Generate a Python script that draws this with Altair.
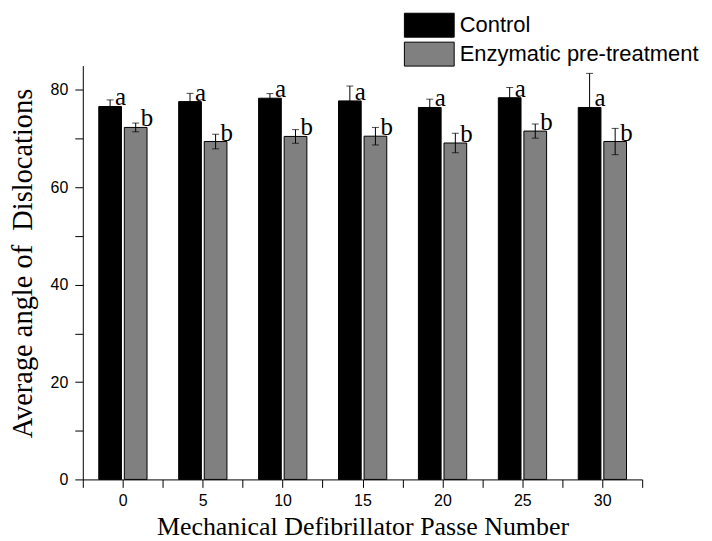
import altair as alt
import pandas as pd

passes = [0, 5, 10, 15, 20, 25, 30]
control = [76.6, 77.6, 78.3, 77.75, 76.4, 78.4, 76.4]
control_err = [1.35, 1.7, 0.95, 3.05, 1.7, 2.1, 7.0]
enzymatic = [72.3, 69.4, 70.45, 70.5, 69.1, 71.55, 69.4]
enzymatic_err = [0.9, 1.5, 1.4, 1.8, 2.0, 1.45, 2.7]
groups = ["Control", "Enzymatic pre-treatment"]
letters = ["a", "b"]
colors = ["#000000", "#808080"]
x_ticks = [-2.5, 0, 2.5, 5, 7.5, 10, 12.5, 15, 17.5, 20, 22.5, 25, 27.5, 30, 32.5]
y_ticks = [0, 10, 20, 30, 40, 50, 60, 70, 80]

rows = []
for i, p in enumerate(passes):
    rows.append(dict(passes=p, group=groups[0], value=control[i], err=control_err[i], letter=letters[0], gi=0))
    rows.append(dict(passes=p, group=groups[1], value=enzymatic[i], err=enzymatic_err[i], letter=letters[1], gi=1))
df = pd.DataFrame(rows)

base = alt.Chart(df).transform_calculate(
    xs="datum.passes + (datum.gi == 0 ? -1.5 : 0.1)",
    xe="datum.passes + (datum.gi == 0 ? -0.08 : 1.52)",
    xc="datum.passes + (datum.gi == 0 ? -0.79 : 0.81)",
    lo="datum.value - datum.err",
    hi="datum.value + datum.err",
)

xscale = alt.Scale(domain=[-2.5, 32.5], nice=False, zero=False)
yscale = alt.Scale(domain=[0, 85], nice=False)

bars = base.mark_bar(stroke="black", strokeWidth=1).encode(
    x=alt.X("xs:Q", scale=xscale,
            axis=alt.Axis(values=x_ticks, title="Mechanical Defibrillator Passe Number",
                          titleFontSize=26, titlePadding=5,
                          labelExpr="datum.value % 5 == 0 ? datum.label : ''")),
    x2="xe:Q",
    y=alt.Y("value:Q", scale=yscale,
            axis=alt.Axis(values=y_ticks, title="Average angle of \u00a0Dislocations",
                          titleFontSize=28.5, titlePadding=13, titleY=198,
                          labelExpr="datum.value % 20 == 0 ? datum.label : ''")),
    y2=alt.datum(0),
    color=alt.Color("group:N", scale=alt.Scale(domain=groups, range=colors),
                    legend=alt.Legend(title=None, orient="none", legendX=335, legendY=-53,
                                      symbolType="M-2.08,-1H2.08V1H-2.08Z", symbolSize=576,
                                      symbolStrokeColor="black", symbolStrokeWidth=1,
                                      symbolOpacity=1, labelFont="Liberation Sans",
                                      labelFontSize=22, labelColor="black", labelLimit=0,
                                      labelOffset=18, rowPadding=0, padding=0)),
)

rules = base.mark_rule(color="black", strokeWidth=1).encode(
    x="xc:Q", y="lo:Q", y2="hi:Q")
caps_hi = base.mark_tick(color="black", thickness=1, size=7, orient="horizontal").encode(
    x="xc:Q", y="hi:Q")
caps_lo = base.mark_tick(color="black", thickness=1, size=7, orient="horizontal").encode(
    x="xc:Q", y="lo:Q")
labels = base.mark_text(align="left", baseline="alphabetic", dx=5, dy=-1,
                        font="Liberation Serif", fontSize=25, color="black").encode(
    x="xc:Q", y="value:Q", text="letter:N")

chart = alt.layer(bars, rules, caps_hi, caps_lo, labels).properties(
    width=561, height=415,
    padding={"left": 0, "top": 4, "right": 5, "bottom": 0}
).configure_view(stroke=None).configure_axis(
    domainColor="black", tickColor="black", tickSize=8, labelColor="black",
    labelFont="Liberation Sans", labelFontSize=16, labelPadding=5,
    titleFont="Liberation Serif", titleFontWeight="normal",
    titleColor="black", grid=False
).configure_axisY(labelPadding=7)

chart.save("out.html", embed_options={"renderer": "svg", "actions": False})
